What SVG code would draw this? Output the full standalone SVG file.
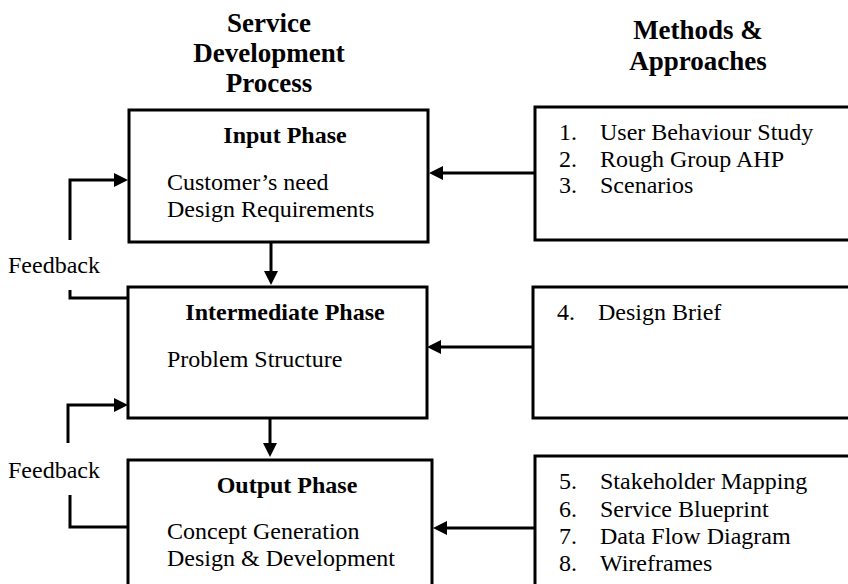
<svg xmlns="http://www.w3.org/2000/svg" width="848" height="584" viewBox="0 0 848 584" font-family="'Liberation Serif', 'Times New Roman', serif">
<style>
.box{fill:#fff;stroke:#000;stroke-width:3}
.ln{fill:none;stroke:#000;stroke-width:3}
.t{font-size:24px;fill:#000}
.b{font-weight:bold}
.h{font-size:27px;font-weight:bold;fill:#000;text-anchor:middle}
</style>
<defs>
<marker id="ah" viewBox="0 0 14 14" refX="6" refY="7" markerWidth="14" markerHeight="14" markerUnits="userSpaceOnUse" orient="auto">
<path d="M0,0 L14,7 L0,14 z" fill="#000"/>
</marker>
</defs>
<rect width="848" height="584" fill="#fff"/>
<g id="titles" font-family="'Liberation Serif', serif">
<text class="h" x="269" y="32">Service</text>
<text class="h" x="269" y="62">Development</text>
<text class="h" x="269" y="92">Process</text>
<text class="h" x="698" y="39">Methods &amp;</text>
<text class="h" x="698" y="70">Approaches</text>
</g>
<g id="input-phase" font-family="'Liberation Serif', serif">
<rect class="box" x="129" y="110" width="299" height="132"/>
<text class="t b" x="285" y="143" text-anchor="middle">Input Phase</text>
<text class="t" x="167" y="190">Customer’s need</text>
<text class="t" x="167" y="217">Design Requirements</text>
</g>
<g id="intermediate-phase" font-family="'Liberation Serif', serif">
<rect class="box" x="128" y="287" width="299" height="131"/>
<text class="t b" x="285" y="320" text-anchor="middle">Intermediate Phase</text>
<text class="t" x="167" y="367">Problem Structure</text>
</g>
<g id="output-phase" font-family="'Liberation Serif', serif">
<rect class="box" x="128" y="460" width="304" height="140"/>
<text class="t b" x="287" y="493" text-anchor="middle">Output Phase</text>
<text class="t" x="167" y="539">Concept Generation</text>
<text class="t" x="167" y="566">Design &amp; Development</text>
</g>
<g id="methods-1" font-family="'Liberation Serif', serif">
<rect class="box" x="535" y="107" width="330" height="133"/>
<text class="t" x="559" y="140">1.</text><text class="t" x="600" y="140">User Behaviour Study</text>
<text class="t" x="559" y="167">2.</text><text class="t" x="600" y="167">Rough Group AHP</text>
<text class="t" x="559" y="193">3.</text><text class="t" x="600" y="193">Scenarios</text>
</g>
<g id="methods-2" font-family="'Liberation Serif', serif">
<rect class="box" x="533" y="287" width="330" height="131"/>
<text class="t" x="557" y="320">4.</text><text class="t" x="598" y="320">Design Brief</text>
</g>
<g id="methods-3" font-family="'Liberation Serif', serif">
<rect class="box" x="535" y="456" width="330" height="140"/>
<text class="t" x="559" y="489">5.</text><text class="t" x="600" y="489">Stakeholder Mapping</text>
<text class="t" x="559" y="517">6.</text><text class="t" x="600" y="517">Service Blueprint</text>
<text class="t" x="559" y="544">7.</text><text class="t" x="600" y="544">Data Flow Diagram</text>
<text class="t" x="559" y="571">8.</text><text class="t" x="600" y="571">Wireframes</text>
</g>
<g id="feedback-labels" font-family="'Liberation Serif', serif">
<text class="t" x="8" y="273">Feedback</text>
<text class="t" x="8" y="478">Feedback</text>
</g>
<g id="connectors">
<path class="ln" d="M535,173 H437" marker-end="url(#ah)"/>
<path class="ln" d="M533,347 H435" marker-end="url(#ah)"/>
<path class="ln" d="M535,528 H441" marker-end="url(#ah)"/>
<path class="ln" d="M271,243 V277" marker-end="url(#ah)"/>
<path class="ln" d="M270,419 V449" marker-end="url(#ah)"/>
<path class="ln" d="M128,298 H70 V290"/>
<path class="ln" d="M70,240 V180 H120" marker-end="url(#ah)"/>
<path class="ln" d="M128,527 H70 V495"/>
<path class="ln" d="M68,443 V405 H120" marker-end="url(#ah)"/>
</g>
</svg>
